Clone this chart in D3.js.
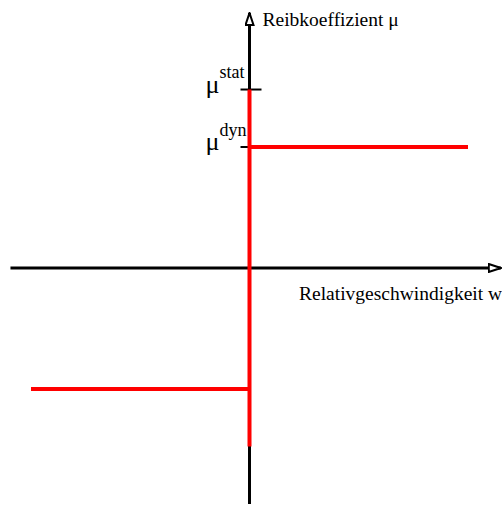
<!DOCTYPE html>
<html>
<head>
<meta charset="utf-8">
<script src="https://cdn.jsdelivr.net/npm/d3@7"></script>
<style>
  body { margin: 0; background: #fff; }
  svg text { font-family: "Liberation Serif", "Times New Roman", serif; fill: #000; }
</style>
</head>
<body>
<div class="canvas"></div>
<script>
// friction characteristic: mu over relative velocity w
const muDyn = 0.4;
const muStat = 0.59;

// red curve (w, mu)
const curveW = [-1, 0, 0, 0, 0, 1];
const curveMu = [-muDyn, -muDyn, -muStat, muStat, muDyn, muDyn];

// axis extents in data units
const wRange = [-1.094, 1.15];
const muRange = [-0.78, 0.843];

const tickValues = [muStat, muDyn];
const tickNames = ["stat", "dyn"];

const svgWidth = 502;
const svgHeight = 507;

const svg = d3.select('.canvas')
  .append('svg')
    .attr('width', svgWidth)
    .attr('height', svgHeight);

const x = d3.scaleLinear()
  .domain([-1, 1])
  .range([31, 468]);

const y = d3.scaleLinear()
  .domain([0, 1])
  .range([268, 268 - 302.5]);

// arrow heads (open triangles)
svg.append('defs').append('marker')
  .attr('id', 'arrow')
  .attr('viewBox', '0 0 14 10')
  .attr('refX', 13).attr('refY', 5)
  .attr('markerWidth', 14).attr('markerHeight', 10)
  .attr('markerUnits', 'userSpaceOnUse')
  .attr('orient', 'auto')
  .append('path')
    .attr('d', 'M1,1 L13,5 L1,9 Z')
    .attr('fill', '#fff')
    .attr('stroke', '#000')
    .attr('stroke-width', 2);

// horizontal axis
svg.append('line')
  .attr('x1', x(wRange[0])).attr('x2', x(wRange[1]))
  .attr('y1', y(0)).attr('y2', y(0))
  .attr('stroke', '#000').attr('stroke-width', 3)
  .attr('marker-end', 'url(#arrow)');

// vertical axis
svg.append('line')
  .attr('x1', x(0)).attr('x2', x(0))
  .attr('y1', y(muRange[0])).attr('y2', y(muRange[1]))
  .attr('stroke', '#000').attr('stroke-width', 3)
  .attr('marker-end', 'url(#arrow)');

// ticks: stat crosses the axis, dyn only on the left
svg.selectAll('.tick')
  .data(tickValues)
  .enter().append('line')
    .attr('class', 'tick')
    .attr('x1', x(0) - 9)
    .attr('x2', (d, i) => i === 0 ? x(0) + 12 : x(0))
    .attr('y1', d => y(d)).attr('y2', d => y(d))
    .attr('stroke', '#000').attr('stroke-width', 2);

// red friction curve
const line = d3.line()
  .x((d, i) => x(curveW[i]))
  .y((d, i) => y(curveMu[i]));

svg.append('path')
  .datum(curveW)
  .attr('d', line)
  .attr('fill', 'none')
  .attr('stroke', '#ff0000')
  .attr('stroke-width', 4)
  .attr('stroke-linejoin', 'miter');

// mu labels
const labels = svg.selectAll('.mulabel')
  .data(tickValues)
  .enter().append('text')
    .attr('class', 'mulabel')
    .attr('x', x(0) - 44)
    .attr('y', d => y(d) + 3);

labels.append('tspan')
  .attr('font-size', 26)
  .text('μ');
labels.append('tspan')
  .attr('font-size', 18)
  .attr('dy', -14.5)
  .text((d, i) => tickNames[i]);

// axis titles
svg.append('text')
  .attr('x', x(0) + 13)
  .attr('y', 26)
  .attr('font-size', 19.5)
  .text('Reibkoeffizient μ');

svg.append('text')
  .attr('x', 299)
  .attr('y', 300)
  .attr('font-size', 19.5)
  .text('Relativgeschwindigkeit w');
</script>
</body>
</html>
